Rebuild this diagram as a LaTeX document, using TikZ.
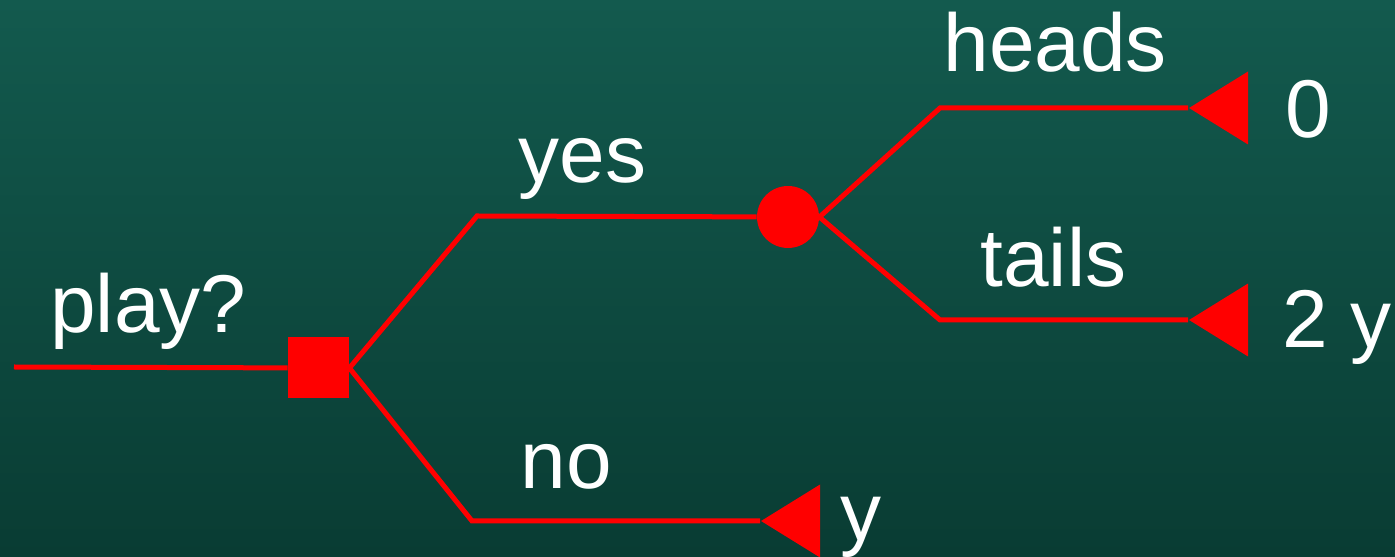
\documentclass[tikz,border=0pt]{standalone}
\usepackage{fontspec}
\setmainfont{Liberation Sans}
\usetikzlibrary{shapes.geometric}
\definecolor{bgtop}{RGB}{19,90,78}
\definecolor{bgbottom}{RGB}{9,60,51}
\definecolor{branchred}{RGB}{255,0,0}

\begin{document}
\begin{tikzpicture}[
        x=0.5pt, y=0.5pt,
        branch/.style={draw=branchred, line width=2.5pt},
        decision/.style={rectangle, fill=branchred, minimum size=30.5pt, inner sep=0pt},
        chance/.style={circle, fill=branchred, minimum size=31pt, inner sep=0pt},
        payoff/.style={isosceles triangle, isosceles triangle stretches, fill=branchred,
            inner sep=0pt, minimum width=36.5pt, minimum height=29.5pt,
            shape border rotate=180, anchor=apex},
        lbl/.style={text=white, font=\fontsize{41}{48}\selectfont, inner sep=0pt, anchor=base west},
    ]
    \shade[top color=bgtop, bottom color=bgbottom] (0,0) rectangle (1395,556);
    \useasboundingbox (0,0) rectangle (1395,556);
    % tree
    \coordinate (start) at (14,189);
    \node[decision](dec) at (318.5,188) {};
    \coordinate (yesbend) at (477,340);
    \node[chance](coin) at (788,339) {};
    \coordinate (nobend) at (472,35);
    \node[payoff](tno) at (760,35) {};
    \coordinate (headsbend) at (940,448);
    \node[payoff](theads) at (1188,448) {};
    \coordinate (tailsbend) at (940,236);
    \node[payoff](ttails) at (1188,236) {};
    \draw[branch] (start) -- (dec);
    \draw[branch] (dec.east) -- (yesbend) -- (coin);
    \draw[branch] (dec.east) -- (nobend) -- (tno);
    \draw[branch] (coin.east) -- (headsbend) -- (theads);
    \draw[branch] (coin.east) -- (tailsbend) -- (ttails);
    % labels
    \node[lbl](play) at (50,223) {play?};
    \node[lbl](yes) at (518,373) {yes};
    \node[lbl](no) at (520,68) {no};
    \node[lbl](heads) at (943,484) {heads};
    \node[lbl](tails) at (980,269) {tails};
    \node[lbl](zero) at (1285,418) {0};
    \node[lbl](twoy) at (1282,208) {2 y};
    \node[lbl](ynode) at (840,16) {y};
\end{tikzpicture}
\end{document}
